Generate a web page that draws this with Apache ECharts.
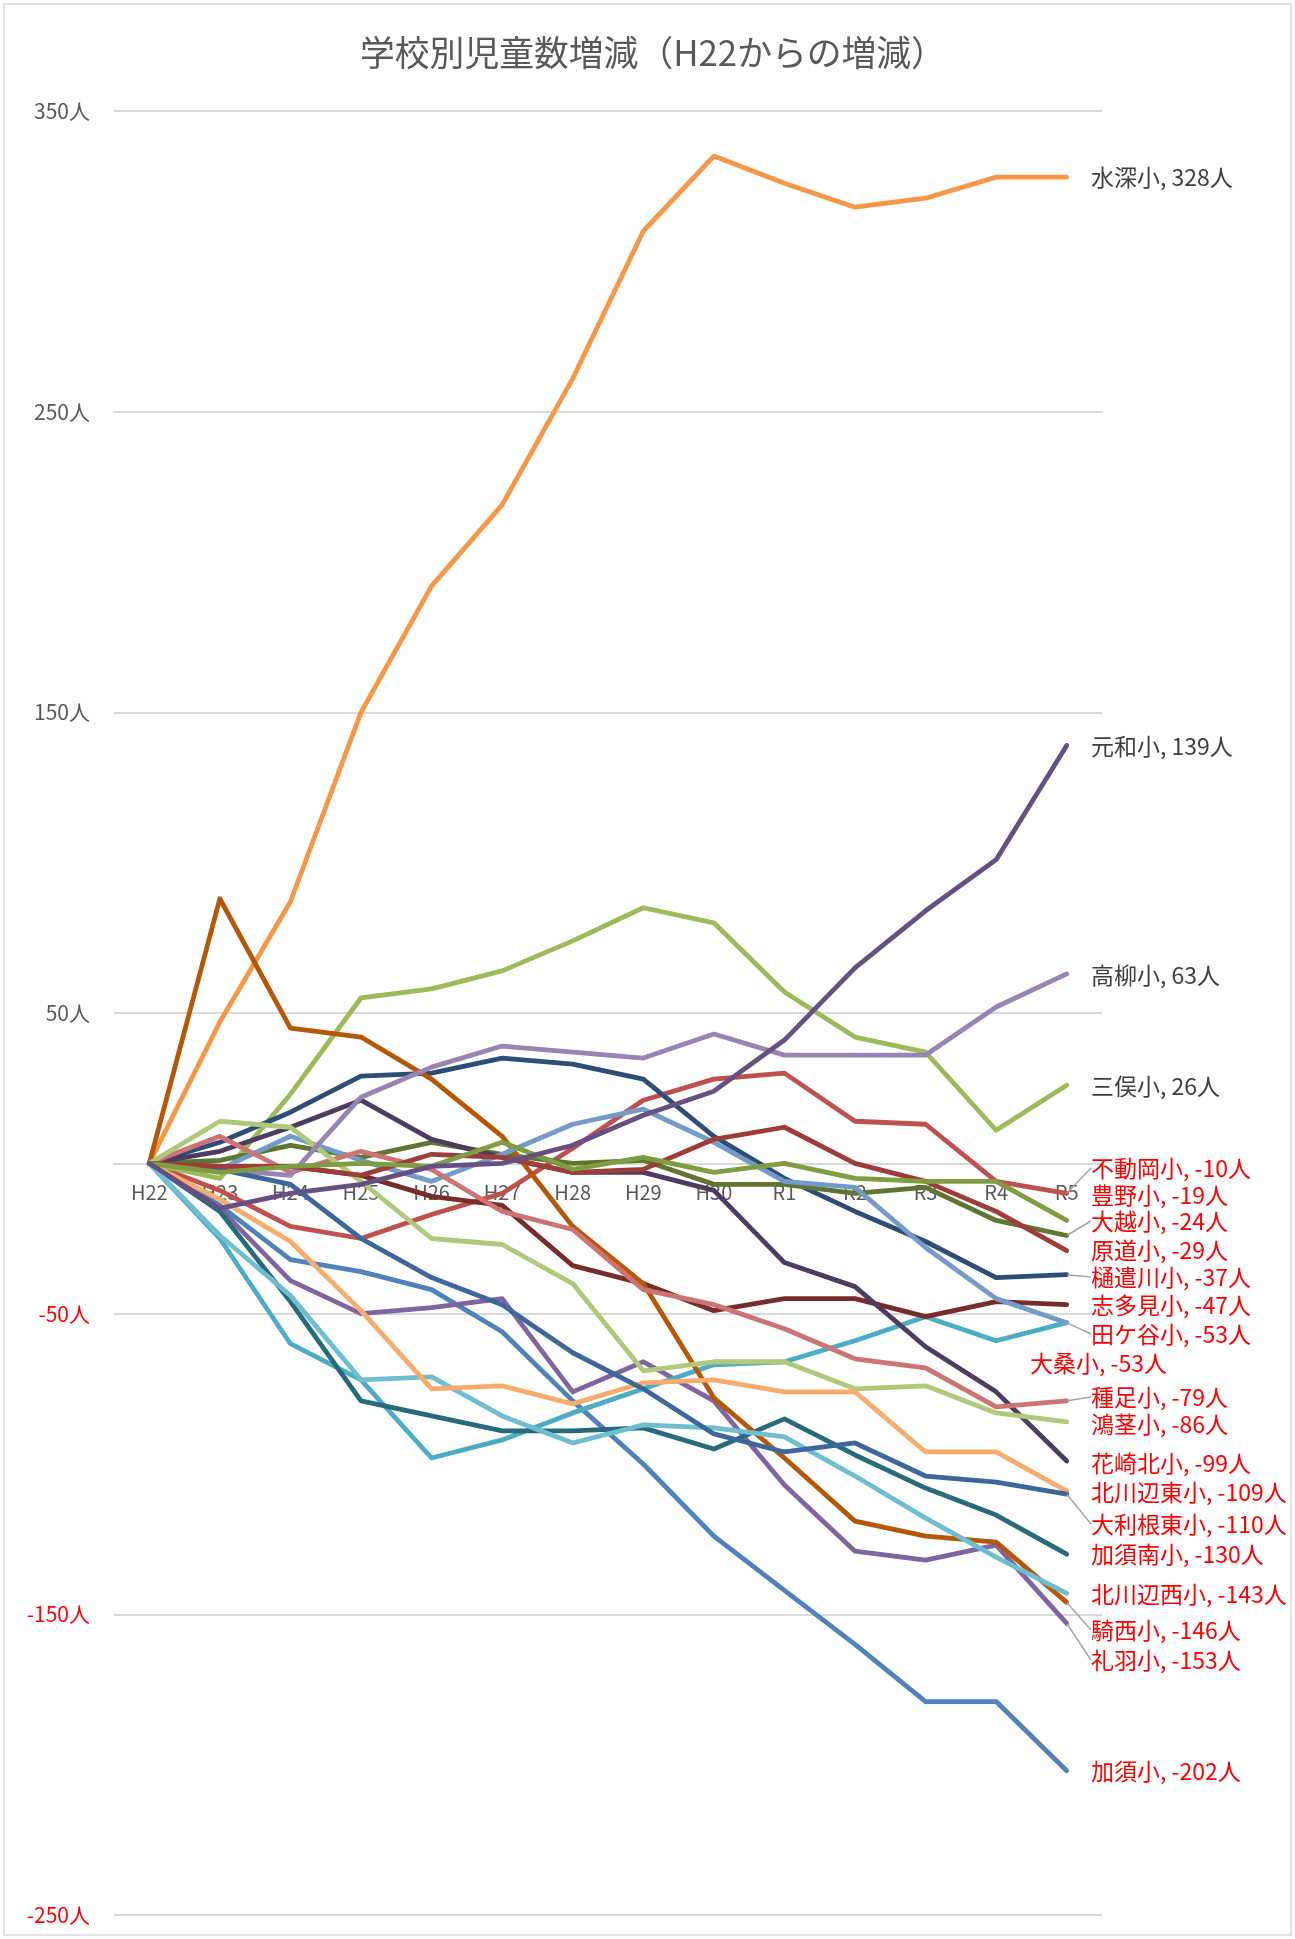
<!DOCTYPE html>
<html lang="ja">
<head>
<meta charset="utf-8">
<title>学校別児童数増減</title>
<script src="https://cdn.jsdelivr.net/npm/echarts@6/dist/echarts.min.js"></script>
<style>
  html, body { margin: 0; padding: 0; background: #fff; }
  #chart { width: 1295px; height: 1939px; }
</style>
</head>
<body>
<div id="chart"></div>
<script>
// 年度（H22からの増減）
const years = ['H22', 'H23', 'H24', 'H25', 'H26', 'H27', 'H28', 'H29', 'H30', 'R1', 'R2', 'R3', 'R4', 'R5']

// 各校の児童数増減（人）
const kazo = [0, -14, -32, -36, -42, -56, -79, -100, -124, -142, -160, -179, -179, -202]
const fudooka = [0, -9, -21, -25, -17, -10, 5, 21, 28, 30, 14, 13, -6, -10]
const mitsumata = [0, -5, 23, 55, 58, 64, 74, 85, 80, 57, 42, 37, 11, 26]
const raiha = [0, -15, -39, -50, -48, -45, -76, -66, -79, -107, -129, -132, -127, -153]
const ookuwa = [0, -25, -60, -72, -98, -92, -83, -75, -67, -66, -59, -51, -59, -53]
const mizubuka = [0, 47, 87, 150, 192, 219, 261, 310, 335, 326, 318, 321, 328, 328]
const hikawa = [0, 7, 17, 29, 30, 35, 33, 28, 9, -5, -16, -26, -38, -37]
const shitami = [0, -1, -1, -4, -11, -14, -34, -40, -49, -45, -45, -51, -46, -47]
const ookoshi = [0, 1, 6, 2, 7, 3, 0, 1, -7, -7, -10, -8, -19, -24]
const hanasakiKita = [0, 4, 12, 21, 8, 2, -3, -3, -9, -33, -41, -61, -76, -99]
const kazoMinami = [0, -16, -46, -79, -84, -89, -89, -88, -95, -85, -97, -108, -117, -130]
const kisai = [0, 88, 45, 42, 28, 9, -21, -40, -78, -98, -119, -124, -126, -146]
const tagaya = [0, -2, 9, 1, -6, 3, 13, 18, 7, -6, -8, -28, -45, -53]
const tanetari = [0, 9, -3, 4, -2, -16, -22, -42, -47, -55, -65, -68, -81, -79]
const kounosu = [0, 14, 12, -6, -25, -27, -40, -69, -66, -66, -75, -74, -83, -86]
const takayanagi = [0, -2, -4, 22, 32, 39, 37, 35, 43, 36, 36, 36, 52, 63]
const kitakawabeNishi = [0, -24, -44, -72, -71, -84, -93, -87, -88, -91, -104, -118, -131, -143]
const kitakawabeHigashi = [0, -12, -26, -49, -75, -74, -80, -73, -72, -76, -76, -96, -96, -109]
const ooToneHigashi = [0, -2, -7, -25, -38, -47, -63, -75, -90, -96, -93, -104, -106, -110]
const haramichi = [0, -1, -1, -4, 3, 2, -3, -2, 8, 12, 0, -6, -16, -29]
const toyono = [0, -3, -1, 0, -1, 7, -2, 2, -3, 0, -5, -6, -6, -19]
const genna = [0, -15, -10, -7, -1, 0, 6, 16, 24, 41, 65, 84, 101, 139]

const schools = [
  ['加須小', kazo], ['不動岡小', fudooka], ['三俣小', mitsumata], ['礼羽小', raiha],
  ['大桑小', ookuwa], ['水深小', mizubuka], ['樋遣川小', hikawa], ['志多見小', shitami],
  ['大越小', ookoshi], ['花崎北小', hanasakiKita], ['加須南小', kazoMinami], ['騎西小', kisai],
  ['田ケ谷小', tagaya], ['種足小', tanetari], ['鴻茎小', kounosu], ['高柳小', takayanagi],
  ['北川辺西小', kitakawabeNishi], ['北川辺東小', kitakawabeHigashi], ['大利根東小', ooToneHigashi],
  ['原道小', haramichi], ['豊野小', toyono], ['元和小', genna]
]

// Excel風の系列色
const colors = [
  '#4F81BD', '#C0504D', '#9BBB59', '#8064A2', '#4BACC6', '#F79646',
  '#2C4D75', '#772C2A', '#5F7530', '#4D3B62', '#276A7C', '#B65708',
  '#729ACA', '#CD7371', '#AFC97A', '#9983B5', '#6FBDD1', '#F9AB6B',
  '#3B679C', '#9F3B38', '#7E9D40', '#664F83'
]

// ラベルの置き場所（px、文字の中心）
const labelY = {
  '水深小': 177, '元和小': 746, '高柳小': 975, '三俣小': 1086,
  '不動岡小': 1168, '豊野小': 1195, '大越小': 1221, '原道小': 1250,
  '樋遣川小': 1277, '志多見小': 1305, '田ケ谷小': 1334, '大桑小': 1363,
  '種足小': 1397, '鴻茎小': 1424, '花崎北小': 1463, '北川辺東小': 1492,
  '大利根東小': 1524, '加須南小': 1554, '北川辺西小': 1594, '騎西小': 1630,
  '礼羽小': 1660, '加須小': 1771
}
const labelX = { '大桑小': 1030 }
const withLeader = ['不動岡小', '大越小', '樋遣川小', '田ケ谷小', '種足小', '大利根東小', '騎西小', '礼羽小']

const font = '"Noto Sans CJK JP", "Noto Sans", sans-serif'

const series = schools.map(([name, values], i) => {
  const last = values.length - 1
  return {
    name,
    type: 'line',
    z: 2,
    lineStyle: { color: colors[i], width: 4.8, cap: 'round', join: 'round' },
    itemStyle: { color: 'rgba(0,0,0,0)' },
    data: values.map((v, j) => j < last
      ? { value: v, symbol: 'none' }
      : {
          value: v,
          symbol: 'circle',
          symbolSize: 1,
          label: {
            show: true,
            formatter: p => p.seriesName + ', ' + p.value + '人',
            color: v < 0 ? '#FF0000' : '#404040',
            fontSize: 23,
            fontFamily: font
          },
          labelLine: {
            show: withLeader.includes(name),
            lineStyle: { color: '#a6a6a6', width: 1.5 }
          }
        }),
    labelLayout: () => ({
      x: labelX[name] || 1091,
      y: labelY[name],
      align: 'left',
      verticalAlign: 'middle'
    }),
    emphasis: { disabled: true }
  }
})

const chart = echarts.init(document.getElementById('chart'))
chart.setOption({
  animation: false,
  title: {
    text: '学校別児童数増減（H22からの増減）',
    left: 355,
    top: 30,
    textStyle: { fontSize: 34.8, fontWeight: 'normal', color: '#595959', fontFamily: font }
  },
  graphic: [{
    type: 'rect',
    shape: { x: 4, y: 4, width: 1287, height: 1931 },
    style: { fill: 'none', stroke: '#d9d9d9', lineWidth: 1.5 },
    silent: true
  }],
  grid: { left: 114, right: 193, top: 111, bottom: 24, outerBoundsMode: 'none', containLabel: false },
  xAxis: {
    type: 'category',
    data: years,
    boundaryGap: true,
    position: 'bottom',
    axisLine: { onZero: false, lineStyle: { color: '#d9d9d9', width: 2 } },
    axisTick: { show: false },
    axisLabel: { color: '#595959', fontSize: 20, margin: 19, fontFamily: font },
    z: 0
  },
  yAxis: {
    type: 'value',
    min: -250,
    max: 350,
    interval: 50,
    axisLine: { show: false },
    axisTick: { show: false },
    axisLabel: {
      fontSize: 21,
      margin: 24,
      fontFamily: font,
      formatter: v => ((v + 250) % 100 === 0 ? v + '人' : ''),
      color: v => (v < 0 ? '#FF0000' : '#595959')
    },
    splitLine: { lineStyle: { color: ['#d9d9d9', 'rgba(0,0,0,0)'], width: 2 } }
  },
  series
})

// 横軸を0の位置まで上げる
const zeroY = chart.convertToPixel({ yAxisIndex: 0 }, 0)
const bottomY = chart.convertToPixel({ yAxisIndex: 0 }, -250)
chart.setOption({ xAxis: { offset: zeroY - bottomY } })
</script>
</body>
</html>
